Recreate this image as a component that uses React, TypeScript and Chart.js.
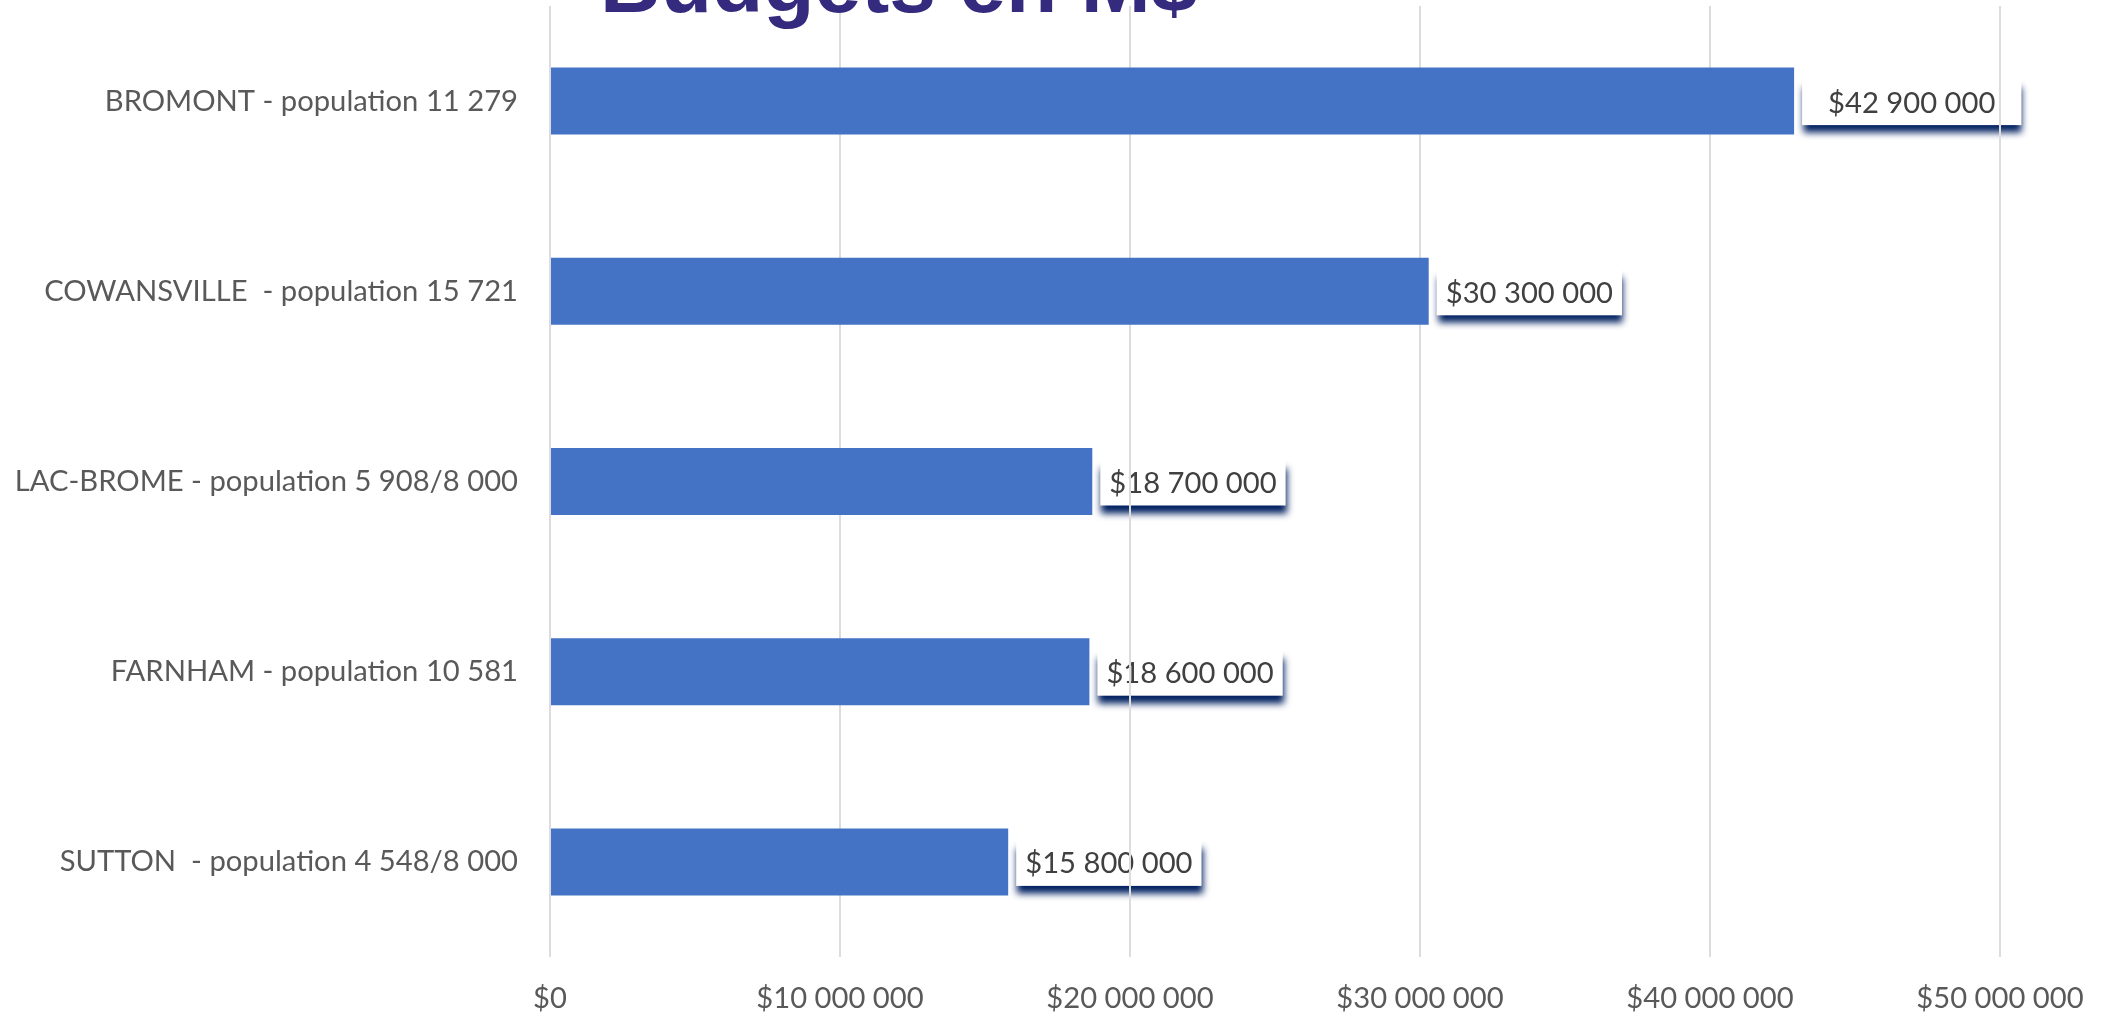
import React, { useEffect, useRef } from 'react';
import { Chart, registerables } from 'chart.js';

Chart.register(...registerables);

const titleText = 'Budgets en M$';

const categories = [
  'BROMONT - population 11 279',
  'COWANSVILLE  - population 15 721',
  'LAC-BROME - population 5 908/8 000',
  'FARNHAM - population 10 581',
  'SUTTON  - population 4 548/8 000',
];

const budgets = [42900000, 30300000, 18700000, 18600000, 15800000];

const axisMin = 0;
const axisMax = 50000000;
const axisStep = 10000000;

const FONT_SIZE = 29.2;

function money(v: number): string {
  const s = Math.round(v)
    .toString()
    .replace(/\B(?=(\d{3})+(?!\d))/g, ' ');
  return '$' + s;
}

const boxLabelPlugin = {
  id: 'boxLabels',
  beforeDraw(chart: any) {
    const ctx = chart.ctx as CanvasRenderingContext2D;
    const meta = chart.getDatasetMeta(0);
    ctx.save();
    ctx.font = `${FONT_SIZE}px Lato`;
    meta.data.forEach((bar: any, i: number) => {
      const { x, y } = bar.getProps(['x', 'y'], true);
      const text = money(budgets[i]);
      const tw = ctx.measureText(text).width;
      const pad = i === 0 ? 26 : 9;
      const bx = x + 8;
      const bw = tw + pad * 2;
      const by = y - 22;
      const bh = 46;
      ctx.save();
      ctx.shadowColor = 'rgba(0,32,96,1)';
      ctx.shadowOffsetX = 1;
      ctx.shadowOffsetY = 8;
      ctx.shadowBlur = 7;
      ctx.fillStyle = '#ffffff';
      ctx.fillRect(bx, by, bw, bh);
      ctx.restore();
      ctx.fillStyle = '#404040';
      ctx.textBaseline = 'middle';
      ctx.textAlign = 'left';
      ctx.fillText(text, bx + pad, y + 2);
    });
    ctx.restore();
  },
  afterDraw(chart: any) {
    const ctx = chart.ctx as CanvasRenderingContext2D;
    const area = chart.chartArea;
    ctx.save();
    ctx.font = 'bold 84px "Liberation Sans", Arial, sans-serif';
    ctx.fillStyle = '#342A7E';
    ctx.textAlign = 'left';
    ctx.textBaseline = 'alphabetic';
    ctx.fillText(titleText, area.left + 50, area.top + 6);
    ctx.restore();
  },
};

export default function App() {
  const canvasRef = useRef<HTMLCanvasElement | null>(null);

  useEffect(() => {
    document.body.style.margin = '0';
    document.body.style.overflow = 'hidden';
    const canvas = canvasRef.current;
    if (!canvas) return;
    const chart = new Chart(canvas, {
      type: 'bar',
      data: {
        labels: categories,
        datasets: [
          {
            data: budgets,
            backgroundColor: '#4472C4',
            borderWidth: 0,
            categoryPercentage: 1,
            barPercentage: 0.352,
          },
        ],
      },
      options: {
        indexAxis: 'y',
        responsive: false,
        animation: false,
        devicePixelRatio: 1,
        layout: { padding: { top: 6, right: 108, left: 0, bottom: 0 } },
        plugins: {
          legend: { display: false },
          tooltip: { enabled: false },
          title: { display: false },
        },
        scales: {
          x: {
            min: axisMin,
            max: axisMax,
            border: { display: false },
            grid: { color: '#dcdcdc', lineWidth: 2, drawTicks: false },
            ticks: {
              stepSize: axisStep,
              padding: 24,
              color: '#595959',
              font: { family: 'Lato', size: FONT_SIZE },
              callback: (v: any) => money(Number(v)),
              maxRotation: 0,
            },
            afterFit: (scale: any) => {
              scale.height = 58;
              scale.paddingLeft = 0;
              scale.paddingRight = 0;
            },
          },
          y: {
            border: { display: false },
            grid: { display: false, drawTicks: false },
            ticks: {
              padding: 32,
              color: '#595959',
              font: { family: 'Lato', size: FONT_SIZE },
            },
            afterFit: (scale: any) => {
              scale.width = 550;
              scale.paddingTop = 0;
              scale.paddingBottom = 0;
            },
          },
        },
      },
      plugins: [boxLabelPlugin],
    });
    return () => chart.destroy();
  }, []);

  return (
    <div style={{ position: 'absolute', left: 0, top: 0, width: 2108, height: 1015, background: '#ffffff' }}>
      <canvas ref={canvasRef} width={2108} height={1015} style={{ display: 'block' }} />
    </div>
  );
}
